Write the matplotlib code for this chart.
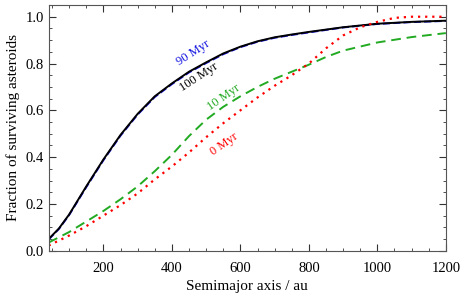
import numpy as np
import matplotlib
matplotlib.use('Agg')
import matplotlib.pyplot as plt
from matplotlib.ticker import MultipleLocator

plt.rcParams['font.family'] = ['Liberation Serif', 'DejaVu Serif']

# semimajor axis (au) and surviving fraction
a_100 = [40, 70, 100, 150, 200, 250, 300, 350, 400, 450, 500, 550, 600, 650, 700, 750, 800, 900, 1000, 1100, 1200]
f_100 = [0.05, 0.095, 0.155, 0.275, 0.39, 0.495, 0.585, 0.66, 0.715, 0.765, 0.805, 0.843, 0.872, 0.895, 0.912, 0.924, 0.935, 0.955, 0.97, 0.978, 0.983]
f_90 = [0.048, 0.093, 0.153, 0.272, 0.387, 0.492, 0.582, 0.657, 0.712, 0.762, 0.802, 0.84, 0.87, 0.893, 0.91, 0.922, 0.933, 0.954, 0.969, 0.977, 0.982]

a_10 = [40, 100, 150, 200, 250, 300, 350, 400, 450, 500, 550, 600, 650, 700, 750, 800, 850, 900, 1000, 1100, 1200]
f_10 = [0.035, 0.08, 0.125, 0.17, 0.22, 0.275, 0.34, 0.41, 0.49, 0.56, 0.615, 0.66, 0.7, 0.735, 0.765, 0.795, 0.828, 0.855, 0.89, 0.913, 0.93]

a_0 = [40, 100, 150, 200, 250, 300, 350, 400, 450, 500, 550, 600, 650, 700, 750, 800, 850, 900, 950, 1000, 1050, 1100, 1200]
f_0 = [0.022, 0.065, 0.105, 0.15, 0.195, 0.245, 0.305, 0.36, 0.42, 0.485, 0.545, 0.6, 0.655, 0.705, 0.75, 0.8, 0.865, 0.92, 0.955, 0.978, 0.995, 1.0, 1.0]

fig = plt.figure(figsize=(4.63, 2.95), dpi=100)
ax = fig.add_axes([0.105, 0.15, 0.858, 0.833])

ax.plot(a_100, f_90, color='#1010e0', ls='--', lw=1.4)
ax.plot(a_100, f_100, color='black', lw=1.4)
ax.plot(a_10, f_10, color='#22aa22', ls=(0, (5, 3)), lw=1.4)
ax.plot(a_0, f_0, color='red', ls=(0, (1, 2.2)), lw=1.6)

ax.text(462, 0.845, '90 Myr', color='#1010e0', rotation=33, ha='center', va='center', fontsize=9)
ax.text(479, 0.742, '100 Myr', color='black', rotation=33, ha='center', va='center', fontsize=9)
ax.text(552, 0.657, '10 Myr', color='#22aa22', rotation=35, ha='center', va='center', fontsize=9)
ax.text(552, 0.456, '0 Myr', color='red', rotation=35, ha='center', va='center', fontsize=9)

ax.set_xlim(40, 1200)
ax.set_ylim(0, 1.05)
ax.xaxis.set_major_locator(MultipleLocator(200))
ax.xaxis.set_minor_locator(MultipleLocator(50))
ax.yaxis.set_minor_locator(MultipleLocator(0.05))
ax.set_yticks([0, 0.2, 0.4, 0.6, 0.8, 1.0])
ax.set_yticklabels(['0.0', '0.2', '0.4', '0.6', '0.8', '1.0'])
ax.tick_params(which='both', direction='in', top=True, right=True, labelsize=10.5, color='#333333')
ax.tick_params(which='major', length=5)
ax.tick_params(which='minor', length=2.5)
ax.tick_params(axis='x', pad=8)
for s in ax.spines.values():
    s.set_color('#555555')
    s.set_linewidth(0.8)

ax.set_xlabel('Semimajor axis / au', fontsize=11)
ax.set_ylabel('Fraction of surviving asteroids', fontsize=11)

fig.savefig('out.png', dpi=100)
